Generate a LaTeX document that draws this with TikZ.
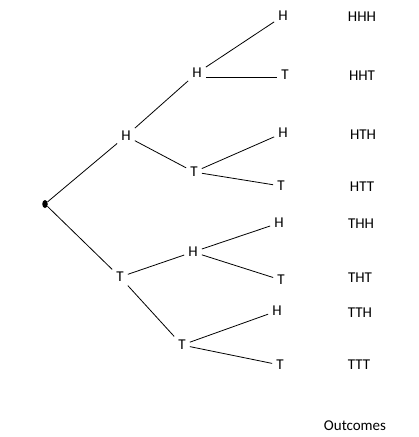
\documentclass[tikz,border=0pt]{standalone}
\usetikzlibrary{shapes.geometric}
\usepackage{fontspec}
\setmainfont{Carlito}
\begin{document}
\begin{tikzpicture}[x=1pt,y=-1pt,
  lbl/.style={inner sep=4pt, font=\fontsize{15}{17}\selectfont},
  outcome/.style={inner sep=0pt, font=\fontsize{15}{17}\selectfont},
  br/.style={draw=black, line width=0.8pt}]
\useasboundingbox (0,0) rectangle (419,437);
\node[fill=black, ellipse, inner sep=0pt, minimum width=5.5pt, minimum height=8pt] (r) at (45,204) {};
\node[lbl] (h) at (126,136) {H};
\node[lbl] (t) at (120,277) {T};
\node[lbl] (hh) at (197,73) {H};
\node[lbl] (ht) at (194,172) {T};
\node[lbl] (th) at (193,252) {H};
\node[lbl] (tt) at (182,345) {T};
\node[lbl] (hhh) at (283,16) {H};
\node[lbl] (hht) at (285,75) {T};
\node[lbl] (hth) at (283,133) {H};
\node[lbl] (htt) at (281,186) {T};
\node[lbl] (thh) at (279,223) {H};
\node[lbl] (tht) at (281,280) {T};
\node[lbl] (tth) at (277,311) {H};
\node[lbl] (ttt) at (280,365) {T};
\node[outcome] (o1) at (362,17) {HHH};
\node[outcome] (o2) at (362,76) {HHT};
\node[outcome] (o3) at (363,135) {HTH};
\node[outcome] (o4) at (362,187) {HTT};
\node[outcome] (o5) at (361,224) {THH};
\node[outcome] (o6) at (360,278) {THT};
\node[outcome] (o7) at (360,313) {TTH};
\node[outcome] (o8) at (359,365) {TTT};
\node[outcome] (oc) at (355,426) {Outcomes};
\draw[br] (r) -- (h);
\draw[br] (r) -- (t);
\draw[br] (h) -- (hh);
\draw[br] (h) -- (ht);
\draw[br] (t) -- (th);
\draw[br] (t) -- (tt);
\draw[br] (hh) -- (hhh);
\draw[br] ([yshift=-4pt]hh.east) -- ([yshift=-4pt]hh.east -| hht.west);
\draw[br] (ht) -- (hth);
\draw[br] (ht) -- (htt);
\draw[br] (th) -- (thh);
\draw[br] (th) -- (tht);
\draw[br] (tt) -- (tth);
\draw[br] (tt) -- (ttt);
\end{tikzpicture}
\end{document}
